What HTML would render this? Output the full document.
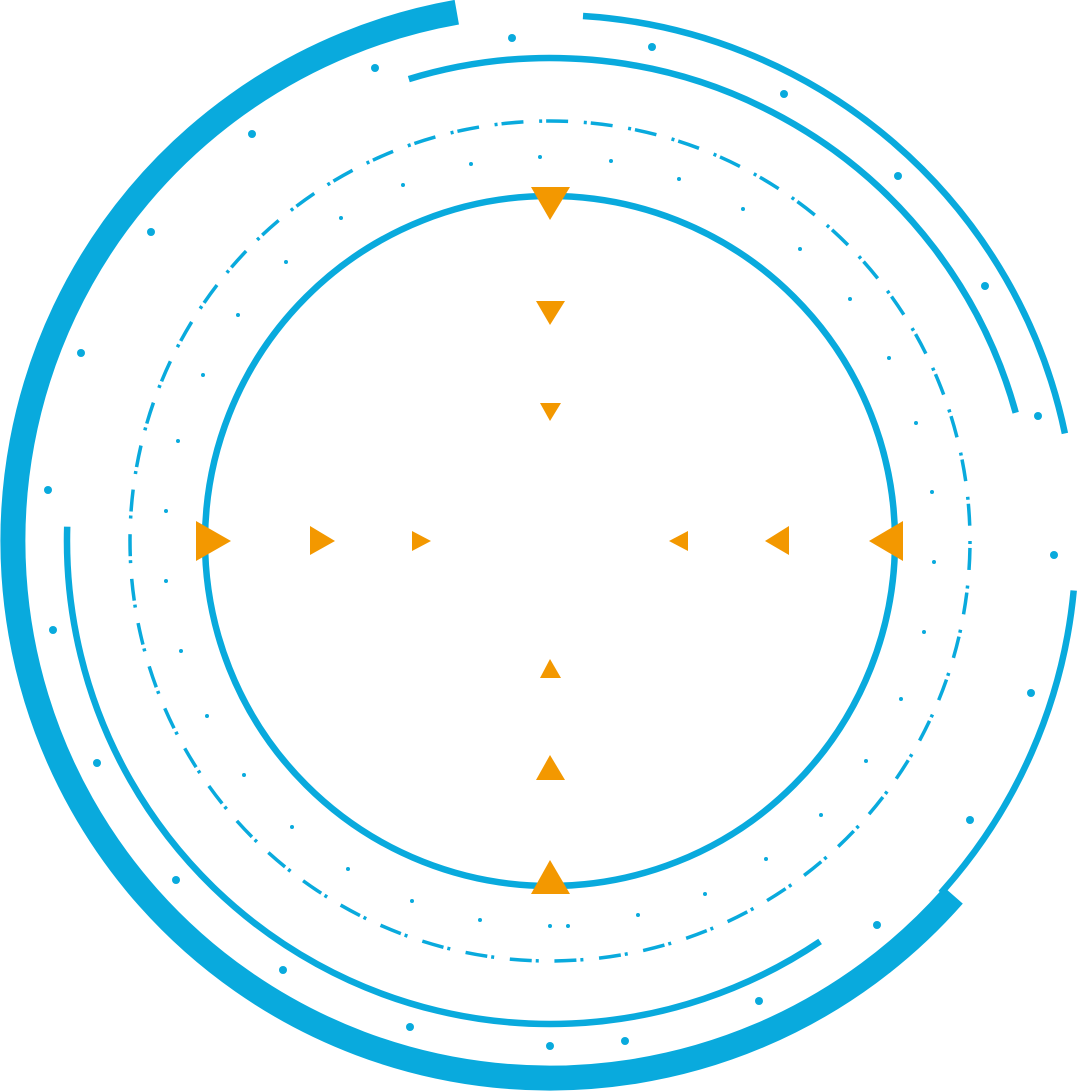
<!DOCTYPE html>
<html><head><meta charset="utf-8"><style>html,body{margin:0;padding:0;background:#fff}svg{display:block}</style></head>
<body>
<svg width="1080" height="1092" viewBox="0 0 1080 1092" xmlns="http://www.w3.org/2000/svg">
<g fill="none" stroke="#09AADD">
<path d="M953.4,895.4 A537,537 0 1 1 456.8,12.2" stroke-width="25"/>
<path d="M408.8,79.1 A483,483 0 0 1 1015.7,412.7" stroke-width="6.5"/>
<path d="M820.1,941.4 A483,483 0 0 1 67.2,526.7" stroke-width="6.5"/>
<path d="M583,16 A526,526 0 0 1 1064.9,433.4" stroke-width="6.5"/>
<path d="M1073.7,590.5 A526,526 0 0 1 940.9,893" stroke-width="6.5"/>
<circle cx="550" cy="541" r="345" stroke-width="6.5"/>
<circle cx="550" cy="541" r="420" stroke-width="3.5" stroke-dasharray="3 4 22 15.73"/>
</g>
<g fill="#09AADD">
<circle cx="540" cy="157" r="2"/><circle cx="471" cy="164" r="2"/><circle cx="611" cy="161" r="2"/><circle cx="679" cy="179" r="2"/><circle cx="743" cy="209" r="2"/><circle cx="800" cy="249" r="2"/><circle cx="850" cy="299" r="2"/><circle cx="889" cy="358" r="2"/><circle cx="916" cy="423" r="2"/><circle cx="932" cy="492" r="2"/><circle cx="934" cy="562" r="2"/><circle cx="924" cy="632" r="2"/><circle cx="901" cy="699" r="2"/><circle cx="866" cy="761" r="2"/><circle cx="821" cy="815" r="2"/><circle cx="766" cy="859" r="2"/><circle cx="705" cy="894" r="2"/><circle cx="638" cy="915" r="2"/><circle cx="568" cy="926" r="2"/><circle cx="550" cy="926" r="2"/><circle cx="480" cy="920" r="2"/><circle cx="412" cy="901" r="2"/><circle cx="348" cy="869" r="2"/><circle cx="292" cy="827" r="2"/><circle cx="244" cy="775" r="2"/><circle cx="207" cy="716" r="2"/><circle cx="181" cy="651" r="2"/><circle cx="166" cy="581" r="2"/><circle cx="166" cy="511" r="2"/><circle cx="178" cy="441" r="2"/><circle cx="203" cy="375" r="2"/><circle cx="238" cy="315" r="2"/><circle cx="286" cy="262" r="2"/><circle cx="341" cy="218" r="2"/><circle cx="403" cy="185" r="2"/>
<circle cx="512" cy="38" r="4"/><circle cx="652" cy="47" r="4"/><circle cx="784" cy="94" r="4"/><circle cx="898" cy="176" r="4"/><circle cx="985" cy="286" r="4"/><circle cx="1038" cy="416" r="4"/><circle cx="1054" cy="555" r="4"/><circle cx="1031" cy="693" r="4"/><circle cx="970" cy="820" r="4"/><circle cx="877" cy="925" r="4"/><circle cx="759" cy="1001" r="4"/><circle cx="625" cy="1041" r="4"/><circle cx="550" cy="1046" r="4"/><circle cx="410" cy="1027" r="4"/><circle cx="283" cy="970" r="4"/><circle cx="176" cy="880" r="4"/><circle cx="97" cy="763" r="4"/><circle cx="53" cy="630" r="4"/><circle cx="48" cy="490" r="4"/><circle cx="81" cy="353" r="4"/><circle cx="151" cy="232" r="4"/><circle cx="252" cy="134" r="4"/><circle cx="375" cy="68" r="4"/>
</g>
<g fill="#F39800">
<polygon points="531,187 570,187 550,220"/>
<polygon points="536,301 565,301 550,325"/>
<polygon points="540,403 561,403 550,421"/>
<polygon points="531,894 570,894 550,860"/>
<polygon points="536,780 565,780 550,755"/>
<polygon points="540,678 561,678 550,659"/>
<polygon points="196,521 196,561 231,541"/>
<polygon points="310,526 310,555 335,541"/>
<polygon points="412,531 412,551 431,541"/>
<polygon points="903,521 903,561 869,541"/>
<polygon points="789,526 789,555 765,541"/>
<polygon points="688,531 688,551 669,541"/>
</g>
</svg>
</body></html>
